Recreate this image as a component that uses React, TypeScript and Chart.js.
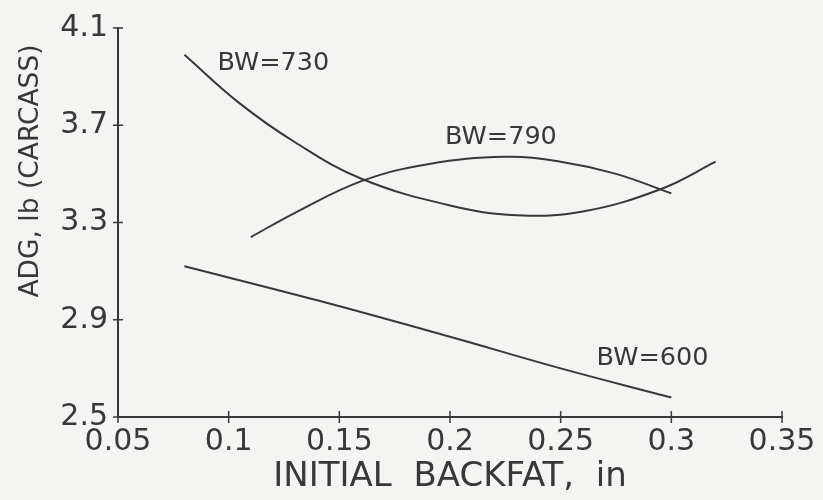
import React, { useEffect, useRef } from "react";
import { Chart, registerables } from "chart.js";

Chart.register(...registerables);

// Axis ticks
const xTicks = [0.05, 0.1, 0.15, 0.2, 0.25, 0.3, 0.35];
const yTicks = [2.5, 2.9, 3.3, 3.7, 4.1];

// Series
const bw600X = [0.08, 0.14, 0.2, 0.25, 0.3];
const bw600Y = [3.12, 2.98, 2.83, 2.7, 2.58];

const bw730X = [0.08, 0.105, 0.13, 0.16, 0.2, 0.23, 0.26, 0.296, 0.32];
const bw730Y = [3.99, 3.79, 3.63, 3.48, 3.37, 3.33, 3.345, 3.44, 3.55];

const bw790X = [0.11, 0.13, 0.16, 0.19, 0.225, 0.25, 0.275, 0.3];
const bw790Y = [3.24, 3.34, 3.47, 3.54, 3.57, 3.55, 3.5, 3.42];

// Curve label texts and their anchors (data units)
const curveLabels = ["BW=730", "BW=790", "BW=600"];
const labelX = [0.1202, 0.223, 0.2915];
const labelY = [3.953, 3.651, 2.741];

const xTitle = "INITIAL  BACKFAT,  in";
const yTitle = "ADG, lb (CARCASS)";

const INK = "#383838";
const FONT = "'DejaVu Sans', sans-serif";

const toPts = (xs: number[], ys: number[]) => xs.map((x, i) => ({ x, y: ys[i] }));

export default function App() {
  const ref = useRef<HTMLCanvasElement | null>(null);

  useEffect(() => {
    if (!ref.current) return;
    const overlay = {
      id: "overlay",
      afterDraw(chart: any) {
        const { ctx, chartArea } = chart;
        const x = chart.scales.x;
        const y = chart.scales.y;
        ctx.save();
        ctx.strokeStyle = INK;
        ctx.lineWidth = 1.5;
        x.ticks.forEach((t: any) => {
          const px = x.getPixelForValue(t.value);
          ctx.beginPath();
          ctx.moveTo(px, chartArea.bottom - 6);
          ctx.lineTo(px, chartArea.bottom + 6);
          ctx.stroke();
        });
        y.ticks.forEach((t: any) => {
          const py = y.getPixelForValue(t.value);
          ctx.beginPath();
          ctx.moveTo(chartArea.left - 5, py);
          ctx.lineTo(chartArea.left + 5, py);
          ctx.stroke();
        });
        ctx.fillStyle = INK;
        ctx.font = `25.5px ${FONT}`;
        ctx.textAlign = "center";
        ctx.textBaseline = "middle";
        curveLabels.forEach((s, i) => {
          ctx.fillText(s, x.getPixelForValue(labelX[i]), y.getPixelForValue(labelY[i]));
        });
        // y title
        ctx.font = `26.5px ${FONT}`;
        ctx.translate(31, 171);
        ctx.rotate(-Math.PI / 2);
        ctx.fillText(yTitle, 0, 0);
        ctx.restore();
      },
    };

    const chart = new Chart(ref.current, {
      type: "line",
      data: {
        datasets: [
          { label: "BW=730", data: toPts(bw730X, bw730Y) },
          { label: "BW=790", data: toPts(bw790X, bw790Y) },
          { label: "BW=600", data: toPts(bw600X, bw600Y) },
        ].map((d) => ({
          ...d,
          borderColor: INK,
          borderWidth: 2,
          pointRadius: 0,
          fill: false,
          tension: 0.4,
        })),
      },
      options: {
        responsive: false,
        animation: false,
        layout: { padding: { left: 0, right: 41, top: 25, bottom: 0 } },
        plugins: { legend: { display: false }, tooltip: { enabled: false } },
        scales: {
          x: {
            type: "linear",
            min: 0.05,
            max: 0.35,
            afterBuildTicks: (s: any) => {
              s.ticks = xTicks.map((v) => ({ value: v }));
            },
            afterFit: (s: any) => {
              s.height = 83;
            },
            grid: { display: false, drawTicks: false },
            border: { display: true, color: INK, width: 2 },
            ticks: {
              autoSkip: false,
              maxRotation: 0,
              padding: 7,
              color: INK,
              font: { family: FONT, size: 30 },
              callback: (v: any) => String(+Number(v).toFixed(2)),
            },
            title: {
              display: true,
              text: xTitle,
              color: INK,
              font: { family: FONT, size: 34 },
              padding: { top: 0, bottom: 2 },
            },
          },
          y: {
            type: "linear",
            min: 2.5,
            max: 4.1,
            afterBuildTicks: (s: any) => {
              s.ticks = yTicks.map((v) => ({ value: v }));
            },
            afterFit: (s: any) => {
              s.width = 118;
            },
            grid: { display: false, drawTicks: false },
            border: { display: true, color: INK, width: 2 },
            ticks: {
              autoSkip: false,
              padding: 10,
              color: INK,
              font: { family: FONT, size: 30 },
              callback: (v: any) => Number(v).toFixed(1),
            },
          },
        },
      },
      plugins: [overlay],
    });
    return () => chart.destroy();
  }, []);

  return (
    <div
      style={{
        position: "fixed",
        left: 0,
        top: 0,
        width: 823,
        height: 500,
        background: "#f4f4f3",
      }}
    >
      <canvas ref={ref} width={823} height={500} />
    </div>
  );
}
